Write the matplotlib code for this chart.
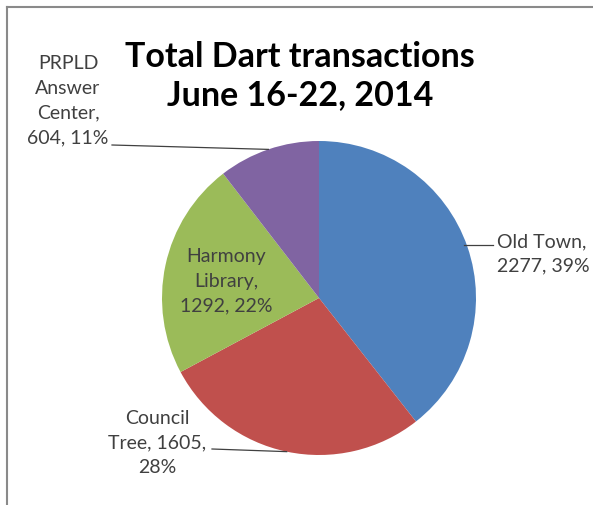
import numpy as np
import matplotlib
matplotlib.use("Agg")
import matplotlib.pyplot as plt
from matplotlib.lines import Line2D

# Data
names = ["Old Town", "Council Tree", "Harmony Library", "PRPLD Answer Center"]
values = [2277, 1605, 1292, 604]
percents = [39, 28, 22, 11]
labels = ["Old Town,\n2277, 39%",
          "Council\nTree, 1605,\n28%",
          "Harmony\nLibrary,\n1292, 22%",
          "PRPLD\nAnswer\nCenter,\n604, 11%"]
colors = ["#4F81BD", "#C0504D", "#9BBB59", "#8064A2"]

W, H = 593, 506
fig = plt.figure(figsize=(W / 100, H / 100), dpi=100)
ax = fig.add_axes([0, 0, 1, 1])

cx, cy, r = 319, H - 299, 157
wedges, _ = ax.pie(values, colors=colors, startangle=90, counterclock=False,
                   center=(cx, cy), radius=r, frame=True,
                   wedgeprops=dict(linewidth=0))
ax.set_xlim(0, W)
ax.set_ylim(0, H)
ax.axis("off")

lab_font = dict(family="Lato", fontsize=14, color="#404040", linespacing=1.55)
line_kw = dict(color="#404040", lw=0.9)

def mid(w):
    a = np.deg2rad((w.theta1 + w.theta2) / 2)
    return cx + r * np.cos(a), cy + r * np.sin(a)

# Old Town
x, y = mid(wedges[0])
ax.text(497, H - 254, labels[0], ha="left", va="center", **lab_font)
ax.plot([x - 3, 493], [H - 246, H - 246], **line_kw)

# Council Tree
x, y = mid(wedges[1])
ax.text(157, H - 443, labels[1], ha="center", va="center", **lab_font)
ax.plot([212, x], [H - 450, y], **line_kw)

# Harmony Library (inside)
ax.text(226, H - 281, labels[2], ha="center", va="center", **lab_font)

# PRPLD
x, y = mid(wedges[3])
ax.text(68, H - 101, labels[3], ha="center", va="center", **lab_font)
ax.plot([112, x], [H - 146, y], **line_kw)

# Title
ax.text(300, H - 76, "Total Dart transactions\nJune 16-22, 2014", ha="center",
        va="center", family="Lato", fontweight="bold", fontsize=24.5,
        linespacing=1.25, color="black")

# chart border (top and left visible)
fig.add_artist(Line2D([7 / W, 1], [1 - 8 / H, 1 - 8 / H], color="#8a8a8a", lw=1.5))
fig.add_artist(Line2D([7 / W, 7 / W], [0, 1 - 8 / H], color="#8a8a8a", lw=1.5))

fig.savefig("out.png", dpi=100)
